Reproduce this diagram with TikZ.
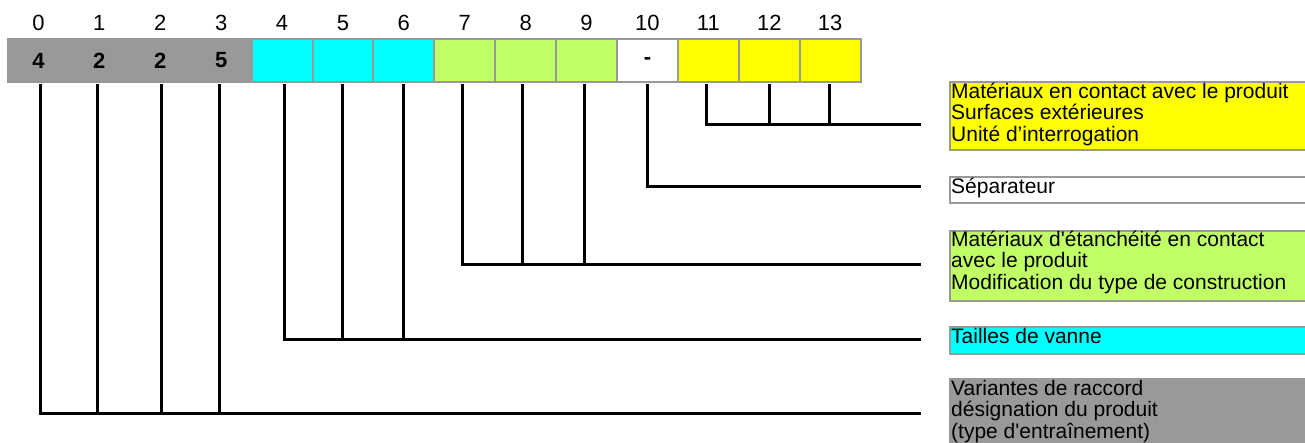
\documentclass[tikz,border=0pt]{standalone}
\usepackage{fontspec}
\setmainfont{Liberation Sans}
\newfontfamily\descfont{Liberation Sans}
\definecolor{cgray}{HTML}{999999}
\definecolor{ccyan}{HTML}{00FFFF}
\definecolor{cgreen}{HTML}{C0FF66}
\definecolor{cyellow}{HTML}{FFFF00}
\begin{document}
\begin{tikzpicture}[x=1pt,y=-1pt,
  cell/.style={draw=cgray,line width=2pt,minimum width=60.9pt,minimum height=43pt,inner sep=0pt,
    font=\fontsize{22}{24}\selectfont\bfseries},
  idx/.style={font=\fontsize{22}{24}\selectfont,inner sep=0pt},
  lead/.style={line width=3pt,line cap=butt},
  descbox/.style={draw=cgray,line width=2pt,anchor=north west,minimum width=390pt,inner sep=0pt},
  desctext/.style={anchor=north west,align=left,inner sep=0pt,font=\descfont\fontsize{21}{21.5}\selectfont}
]
\useasboundingbox (0,0) rectangle (1305,442);

% code cells
\foreach \i/\col/\txt in {0/cgray/4,1/cgray/2,2/cgray/2,3/cgray/5,4/ccyan/,5/ccyan/,6/ccyan/,
  7/cgreen/,8/cgreen/,9/cgreen/,10/white/-,11/cyellow/,12/cyellow/,13/cyellow/}{
  \node[cell,fill=\col] (c\i) at ({8+60.9*(\i+0.5)},60.5) {\txt};
  \node[idx] (i\i) at ({8+60.9*(\i+0.5)},23) {\i};
}

% description boxes
\node[descbox,fill=cyellow,minimum height=68pt] (byel) at (949,81) {};
\node[descbox,fill=white,minimum height=26pt] (bsep) at (949,176) {};
\node[descbox,fill=cgreen,minimum height=70pt] (bgrn) at (949,230) {};
\node[descbox,fill=ccyan,minimum height=27pt] (bcya) at (949,326) {};
\node[descbox,fill=cgray,minimum height=80pt] (bgry) at (949,378) {};

\node[desctext] (tyel) at (951,82) {\rule{0pt}{16pt}Matériaux en contact avec le produit\\Surfaces extérieures\\Unité d’interrogation};
\node[desctext] (tsep) at (951,177) {\rule{0pt}{16pt}Séparateur};
\node[desctext] (tgrn) at (951,230) {\rule{0pt}{16pt}Matériaux d'étanchéité en contact\\avec le produit\\Modification du type de construction};
\node[desctext] (tcya) at (951,327) {\rule{0pt}{16pt}Tailles de vanne};
\node[desctext] (tgry) at (951,379) {\rule{0pt}{16pt}Variantes de raccord\\désignation du produit\\(type d'entraînement)};

% bus end points
\coordinate (eyel) at (921,124);
\coordinate (esep) at (921,186);
\coordinate (egrn) at (921,264);
\coordinate (ecya) at (921,339);
\coordinate (egry) at (921,413);

% leader tops
\foreach \n/\x in {0/40,1/97,2/161,3/219,4/284,5/342,6/403,7/462,8/522,9/584,10/647,11/706,12/769,13/829}{
  \coordinate (t\n) at (\x,84);
}

% gray group
\draw[lead] (t0) |- (egry);
\foreach \n in {1,2,3}{\draw[lead] (t\n) -- (t\n |- egry);}
% cyan group
\draw[lead] (t4) |- (ecya);
\foreach \n in {5,6}{\draw[lead] (t\n) -- (t\n |- ecya);}
% green group
\draw[lead] (t7) |- (egrn);
\foreach \n in {8,9}{\draw[lead] (t\n) -- (t\n |- egrn);}
% separator
\draw[lead] (t10) |- (esep);
% yellow group
\draw[lead] (t11) |- (eyel);
\foreach \n in {12,13}{\draw[lead] (t\n) -- (t\n |- eyel);}
\end{tikzpicture}
\end{document}
